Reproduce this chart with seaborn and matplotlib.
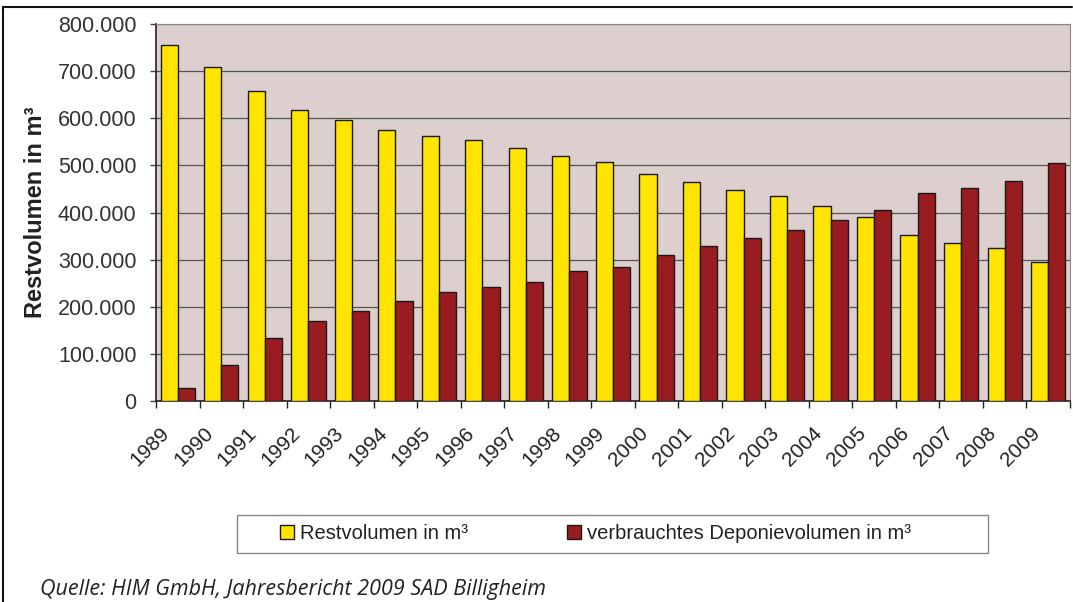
import matplotlib
matplotlib.use("Agg")
import matplotlib.pyplot as plt
from matplotlib.ticker import FuncFormatter, FixedLocator
from matplotlib.lines import Line2D
from matplotlib.patches import Rectangle
from matplotlib.transforms import ScaledTranslation
import seaborn as sns
import pandas as pd
import numpy as np

years = [str(y) for y in range(1989, 2010)]
restvolumen = [756000, 708000, 657000, 618000, 597000, 575000, 563000, 554000,
               537000, 521000, 507000, 482000, 465000, 448000, 434000, 413000,
               390000, 352000, 336000, 324000, 294000]
verbraucht = [28000, 76000, 134000, 169000, 190000, 213000, 231000, 241000,
              253000, 276000, 285000, 310000, 328000, 345000, 362000, 384000,
              406000, 441000, 453000, 466000, 505000]
series_names = ["Restvolumen in m³", "verbrauchtes Deponievolumen in m³"]
y_ticks = [0, 100000, 200000, 300000, 400000, 500000, 600000, 700000, 800000]

df = pd.DataFrame({
    "Jahr": years * 2,
    "Volumen": restvolumen + verbraucht,
    "Serie": [series_names[0]] * len(years) + [series_names[1]] * len(years),
})

sns.set_theme(style="white")
plt.rcParams["font.family"] = ["Liberation Sans", "DejaVu Sans"]

fig = plt.figure(figsize=(10.73, 6.02), dpi=100)
ax = fig.add_axes([0.1454, 0.334, 0.8518, 0.626])
ax.set_facecolor("#ddcfcd")

palette = {series_names[0]: "#ffe400", series_names[1]: "#981c20"}
sns.barplot(data=df, x="Jahr", y="Volumen", hue="Serie", palette=palette,
            width=0.79, edgecolor="#1a1a1a", linewidth=1.0, saturation=1,
            ax=ax, legend=False, zorder=3)

ax.set_ylim(0, 800000)
ax.set_xlim(-0.5, len(years) - 0.5)
ax.yaxis.set_major_locator(FixedLocator(y_ticks))
ax.yaxis.set_major_formatter(FuncFormatter(lambda v, p: f"{int(v):,}".replace(",", ".")))
ax.grid(axis="y", color="#555555", linewidth=0.9, zorder=1)
ax.set_axisbelow(True)

# ticks between categories on the x axis, labels near category centres
ax.set_xticks(np.arange(len(years)))
ax.set_xticklabels(years, rotation=45, ha="right", rotation_mode="anchor",
                   fontsize=15, color="#222222")
ax.set_xticks(np.arange(-0.5, len(years)), minor=True)
ax.tick_params(axis="x", which="major", length=0, pad=10)
ax.tick_params(axis="x", which="minor", length=5, width=1, color="#222222",
               direction="out", bottom=True)
ax.tick_params(axis="y", length=4, width=1, color="#444444", direction="out",
               labelsize=15.5, labelcolor="#333333", pad=10, left=True)
shift = ScaledTranslation(-13 / 72, -6 / 72, fig.dpi_scale_trans)
for lbl in ax.get_xticklabels():
    lbl.set_transform(lbl.get_transform() + shift)

for side in ["left", "bottom"]:
    ax.spines[side].set_color("#222222")
    ax.spines[side].set_linewidth(1.2)
for side in ["top", "right"]:
    ax.spines[side].set_color("#8a8a8a")
    ax.spines[side].set_linewidth(0.8)

ax.set_xlabel("")
ax.set_ylabel("Restvolumen in m³", fontsize=17, fontweight="bold",
              color="#222222", labelpad=8)

# legend box
fig.add_artist(Rectangle((0.2209, 0.0814), 0.700, 0.0631, transform=fig.transFigure,
                         facecolor="white", edgecolor="#888888", linewidth=1.0))
handles = [plt.Rectangle((0, 0), 1, 1, facecolor=palette[n], edgecolor="#1a1a1a",
                         linewidth=1.0) for n in series_names]
leg = fig.legend(handles, series_names, loc="center left",
                 bbox_to_anchor=(0.261, 0.113), ncol=2, fontsize=14.5, frameon=False,
                 handlelength=0.7, handleheight=0.7, handletextpad=0.3,
                 columnspacing=4.9, borderpad=0.0, borderaxespad=0.0)
for t in leg.get_texts():
    t.set_color("#222222")

fig.text(0.037, 0.012, "Quelle: HIM GmbH, Jahresbericht 2009 SAD Billigheim",
         fontsize=15.5, style="italic", color="#222222", family=["Open Sans", "DejaVu Sans"])

# outer frame lines (top and left)
fig.add_artist(Line2D([0.003, 0.999], [0.988, 0.988], color="#111111", linewidth=1.5))
fig.add_artist(Line2D([0.003, 0.003], [0.0, 0.988], color="#111111", linewidth=1.5))

fig.savefig("out.png", dpi=100)
